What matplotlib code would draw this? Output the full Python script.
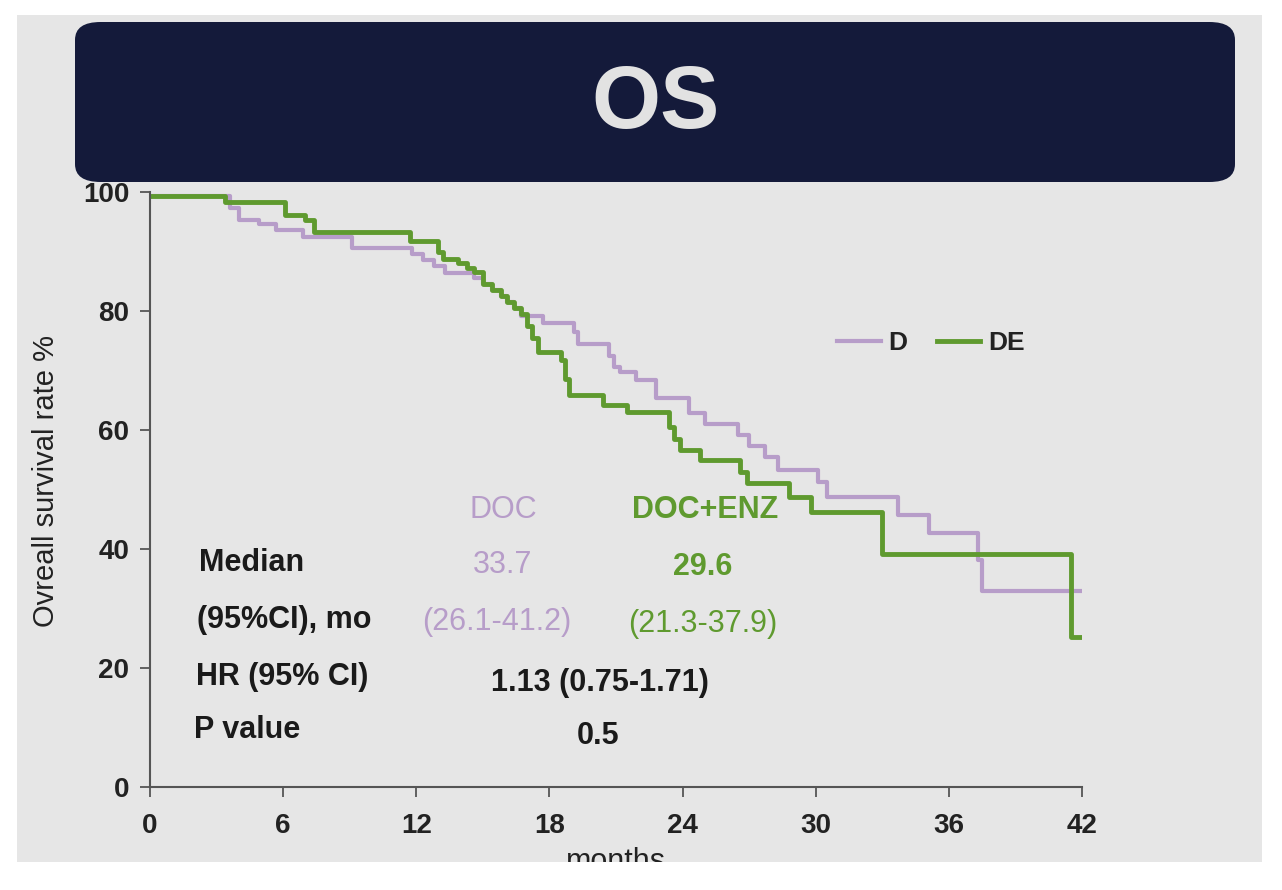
import matplotlib
matplotlib.use("Agg")
import matplotlib.pyplot as plt
from matplotlib.patches import Rectangle, FancyBboxPatch

plt.rcParams['font.family'] = ['Liberation Sans', 'DejaVu Sans']

# Kaplan-Meier steps (months, survival %)
d_time = [0, 3.6, 4.0, 4.9, 5.7, 6.9, 9.1, 11.8, 12.3, 12.8, 13.3, 14.6, 15.0, 15.4,
          15.8, 16.1, 16.4, 16.7, 17.7, 19.1, 19.3, 20.7, 20.9, 21.2, 21.9, 22.8,
          24.3, 25.0, 26.5, 27.0, 27.7, 28.3, 30.1, 30.5, 33.7, 35.1, 37.3, 37.5, 42.0]
d_surv = [99.3, 97.3, 95.3, 94.6, 93.6, 92.4, 90.6, 89.6, 88.6, 87.5, 86.4, 85.5, 84.5, 83.5,
          82.5, 81.5, 80.5, 79.2, 78.0, 76.5, 74.4, 72.5, 70.6, 69.7, 68.4, 65.4,
          62.9, 61.0, 59.2, 57.3, 55.4, 53.3, 51.3, 48.7, 45.7, 42.7, 38.2, 32.9, 32.9]

de_time = [0, 3.4, 6.1, 7.0, 7.4, 11.7, 13.0, 13.2, 13.9, 14.3, 14.6, 15.0, 15.4, 15.8,
           16.1, 16.4, 16.7, 17.0, 17.2, 17.5, 18.5, 18.7, 18.9, 20.4, 21.5, 23.4,
           23.6, 23.9, 24.8, 26.6, 26.9, 28.8, 29.8, 33.0, 41.5, 42.0]
de_surv = [99.3, 98.3, 96.2, 95.3, 93.2, 91.7, 90.0, 88.8, 88.0, 87.3, 86.6, 84.5, 83.5, 82.5,
           81.5, 80.5, 79.5, 77.5, 75.5, 73.1, 71.8, 68.5, 65.9, 64.2, 63.0, 60.5,
           58.5, 56.6, 55.0, 53.0, 51.1, 48.7, 46.2, 39.2, 25.2, 25.2]

x_ticks = [0, 6, 12, 18, 24, 30, 36, 42]
y_ticks = [0, 20, 40, 60, 80, 100]

PURPLE = '#b79dc9'
GREEN = '#5f9a2f'
NAVY = '#141a3a'
SLIDE = '#e6e6e6'

W, H = 1282, 890


def fx(px):
    return px / W


def fy(py):
    return 1 - py / H


fig = plt.figure(figsize=(W / 100, H / 100), dpi=100, facecolor='white')

# slide background and title banner
fig.add_artist(Rectangle((fx(17), fy(862)), fx(1262) - fx(17), fy(15) - fy(862),
                         transform=fig.transFigure, facecolor=SLIDE, edgecolor='none', zorder=-10))
fig.add_artist(FancyBboxPatch((fx(75), fy(182)), fx(1235) - fx(75), fy(22) - fy(182),
                              boxstyle='round,pad=0,rounding_size=0.02',
                              transform=fig.transFigure, facecolor=NAVY, edgecolor='none', zorder=-5))
fig.text(fx(656), fy(105), 'OS', color='#e2e2e2', fontsize=64, fontweight='bold',
         ha='center', va='center')

ax = fig.add_axes([fx(150), fy(787), fx(1082) - fx(150), fy(192) - fy(787)])
ax.patch.set_alpha(0)

ax.plot(d_time, d_surv, drawstyle='steps-post', color=PURPLE, lw=3.0, label='D')
ax.plot(de_time, de_surv, drawstyle='steps-post', color=GREEN, lw=3.5, label='DE')

ax.set_xlim(0, 42)
ax.set_ylim(0, 100)
ax.set_xticks(x_ticks)
ax.set_yticks(y_ticks)
ax.tick_params(labelsize=20, length=7, width=1.3, color='#555555')
ax.tick_params(axis='x', pad=12)
ax.tick_params(axis='y', pad=8)
for lab in ax.get_xticklabels() + ax.get_yticklabels():
    lab.set_fontweight('bold')
    lab.set_color('#222222')
for s in ['top', 'right']:
    ax.spines[s].set_visible(False)
for s in ['left', 'bottom']:
    ax.spines[s].set_color('#555555')
    ax.spines[s].set_linewidth(1.5)

ax.set_ylabel('Ovreall survival rate %', fontsize=21, color='#222222')
ax.yaxis.set_label_coords(-0.097, 0.515)
ax.set_xlabel('months', fontsize=22, color='#222222')
ax.xaxis.set_label_coords(0.5, -0.1)

leg = ax.legend(ncol=2, frameon=False, loc='center left',
                bbox_to_anchor=(fx(824), fy(343)), bbox_transform=fig.transFigure,
                handlelength=1.65, handletextpad=0.3, columnspacing=1.1, borderpad=0,
                prop={'size': 19, 'weight': 'bold'})
for t in leg.get_texts():
    t.set_color('#222222')

# summary table
black = '#1a1a1a'
fs = 22
fig.text(fx(503), fy(510), 'DOC', color=PURPLE, fontsize=fs, ha='center', va='center')
fig.text(fx(705), fy(510), 'DOC+ENZ', color=GREEN, fontsize=fs, fontweight='bold', ha='center', va='center')
fig.text(fx(199), fy(563), 'Median', color=black, fontsize=fs, fontweight='bold', ha='left', va='center')
fig.text(fx(503), fy(565), '33.7', color=PURPLE, fontsize=fs, ha='center', va='center')
fig.text(fx(703), fy(567), '29.6', color=GREEN, fontsize=fs, fontweight='bold', ha='center', va='center')
fig.text(fx(197), fy(620), '(95%CI), mo', color=black, fontsize=fs, fontweight='bold', ha='left', va='center')
fig.text(fx(497), fy(622), '(26.1-41.2)', color=PURPLE, fontsize=fs, ha='center', va='center')
fig.text(fx(703), fy(624), '(21.3-37.9)', color=GREEN, fontsize=fs, ha='center', va='center')
fig.text(fx(196), fy(677), 'HR (95% CI)', color=black, fontsize=fs, fontweight='bold', ha='left', va='center')
fig.text(fx(600), fy(683), '1.13 (0.75-1.71)', color=black, fontsize=fs, fontweight='bold', ha='center', va='center')
fig.text(fx(194), fy(730), 'P value', color=black, fontsize=fs, fontweight='bold', ha='left', va='center')
fig.text(fx(598), fy(736), '0.5', color=black, fontsize=fs, fontweight='bold', ha='center', va='center')

# white border below the slide cuts the axis title, as in the photo
fig.add_artist(Rectangle((0, 0), 1, fy(862), transform=fig.transFigure,
                         facecolor='white', edgecolor='none', zorder=20))

fig.savefig('out.png', dpi=100, facecolor='white')
